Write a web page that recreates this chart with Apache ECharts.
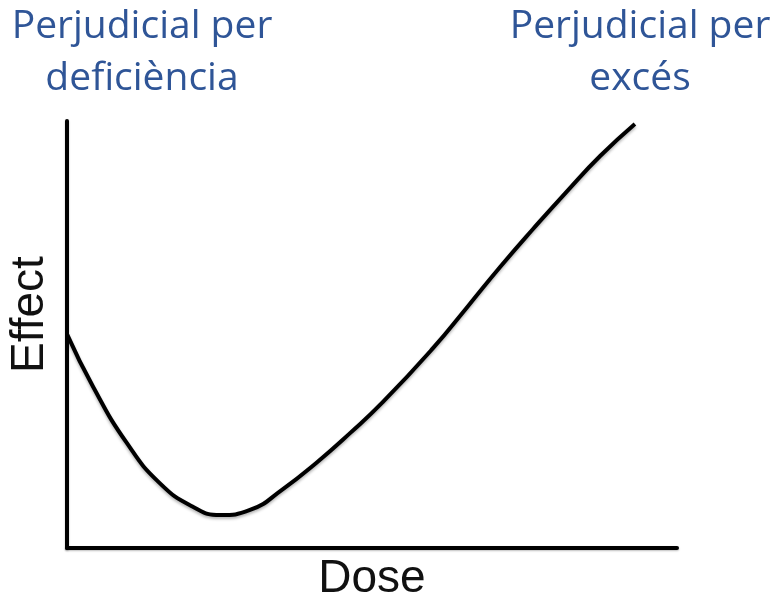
<!DOCTYPE html>
<html>
<head>
<meta charset="utf-8">
<script src="https://cdn.jsdelivr.net/npm/echarts@6/dist/echarts.min.js"></script>
<style>html,body{margin:0;padding:0;background:#fff}#c{width:776px;height:606px}</style>
</head>
<body>
<div id="c"></div>
<script>
// Dose values (relative units) and effect values
var doseValues = [0, 4.3, 9.8, 15.2, 20.7, 25.1, 30.0, 35.4, 41.0, 46.4, 51.8, 60.0, 65.6, 71.0, 76.4, 82.0, 87.4, 93.1];
var effectValues = [50.1, 37.7, 24.6, 15.2, 9.6, 7.7, 8.9, 13.8, 20.1, 26.9, 34.2, 46.8, 56.4, 65.8, 74.7, 83.6, 91.8, 99.3];
var xAxisName = 'Dose';
var yAxisName = 'Effect';
var leftLabel = 'Perjudicial per\ndeficiència';
var rightLabel = 'Perjudicial per\nexcés';

var seriesData = doseValues.map(function (d, i) { return [d, effectValues[i]]; });

var chart = echarts.init(document.getElementById('c'));
var axisLine = { show: true, lineStyle: { color: '#000', width: 4, shadowColor: 'rgba(0,0,0,0.25)', shadowBlur: 2, shadowOffsetY: 1 } };
var blue = '#2f5597';
var titleFont = '39px "Open Sans", "Noto Sans", sans-serif';
chart.setOption({
  animation: false,
  backgroundColor: '#fff',
  grid: { left: 67, right: 99, top: 121, bottom: 58, containLabel: false, outerBoundsMode: 'none' },
  xAxis: {
    type: 'value', min: 0, max: 100,
    name: xAxisName, nameLocation: 'middle', nameGap: 8,
    nameTextStyle: { fontFamily: '"Liberation Sans", Arial, sans-serif', fontSize: 46, color: '#111', verticalAlign: 'top' },
    axisLine: axisLine, axisTick: { show: false }, axisLabel: { show: false }, splitLine: { show: false }
  },
  yAxis: {
    type: 'value', min: 0, max: 100,
    name: yAxisName, nameLocation: 'middle', nameGap: 14, nameRotate: 90,
    nameTextStyle: { fontFamily: '"Liberation Sans", Arial, sans-serif', fontSize: 46, color: '#111', padding: [0, 0, 0, 40] },
    axisLine: axisLine, axisTick: { show: false }, axisLabel: { show: false }, splitLine: { show: false }
  },
  graphic: [
    { type: 'text', x: 142, y: 1, style: { text: leftLabel, textAlign: 'center', align: 'center', textVerticalAlign: 'top', verticalAlign: 'top', font: titleFont, lineHeight: 52, fill: blue } },
    { type: 'text', x: 640, y: 1, style: { text: rightLabel, textAlign: 'center', align: 'center', textVerticalAlign: 'top', verticalAlign: 'top', font: titleFont, lineHeight: 52, fill: blue } }
  ],
  series: [{
    type: 'line', data: seriesData, smooth: 0.5, showSymbol: false, symbol: 'none',
    lineStyle: { color: '#000', width: 4, shadowColor: 'rgba(0,0,0,0.3)', shadowBlur: 3, shadowOffsetY: 2 }
  }]
});
</script>
</body>
</html>
